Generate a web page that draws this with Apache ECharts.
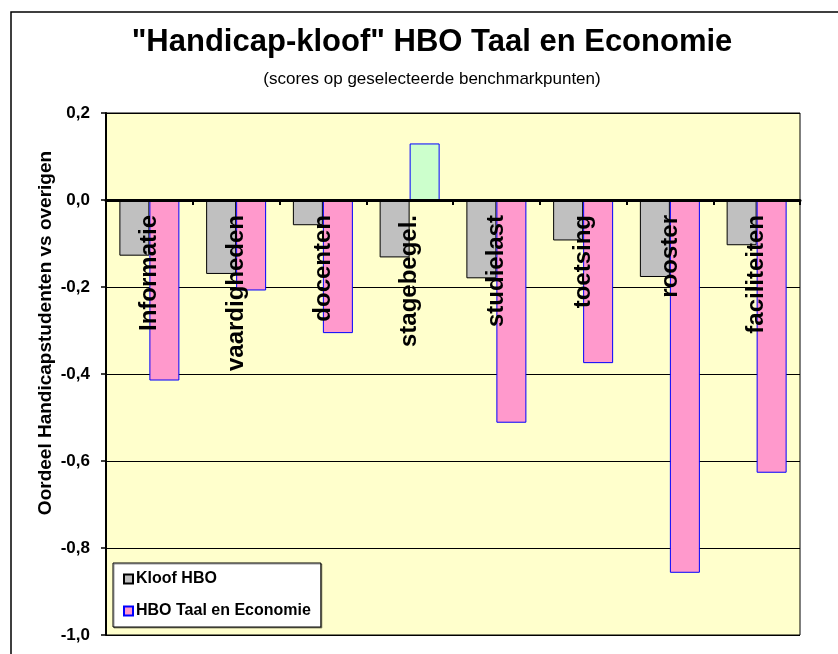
<!DOCTYPE html>
<html>
<head>
<meta charset="utf-8">
<script type="text/javascript" src="https://cdn.jsdelivr.net/npm/echarts@6/dist/echarts.min.js"></script>
<style>
  html, body { margin: 0; padding: 0; background: #fff; }
  #container { width: 838px; height: 654px; }
</style>
</head>
<body>
<div id="container"></div>
<script type="text/javascript">
    // gegevens uit de grafiek
    var categories = ['Informatie', 'vaardigheden', 'docenten', 'stagebegel.', 'studielast', 'toetsing', 'rooster', 'faciliteiten'];
    var kloofHBO = [-0.128, -0.170, -0.058, -0.132, -0.180, -0.093, -0.177, -0.104];
    var taalEconomie = [-0.415, -0.208, -0.306, 0.130, -0.512, -0.375, -0.857, -0.627];
    var seriesNames = ['Kloof HBO', 'HBO Taal en Economie'];
    var yTicks = { min: -1.0, max: 0.2, step: 0.2 };

    var FONT = '"Liberation Sans", Arial, sans-serif';

    window.onload = function () {
        var myChart = echarts.init(document.getElementById('container'));

        var gridTop = 113, gridBottom = 19, chartH = 654;
        var plotH = chartH - gridTop - gridBottom;
        // afstand van de onderkant tot de nullijn, zodat de labels bij 0 staan
        var zeroOffset = plotH * (0 - yTicks.min) / (yTicks.max - yTicks.min);

        // positieve waarde krijgt groene vulling
        var taalData = taalEconomie.map(function (v) {
            return v > 0 ? { value: v, itemStyle: { color: '#CCFFCC' } } : v;
        });

        var option = {
            animation: false,
            backgroundColor: '#ffffff',
            title: [{
                text: '"Handicap-kloof" HBO Taal en Economie',
                left: 427, top: 22, textAlign: 'center',
                textStyle: { fontFamily: FONT, fontSize: 31, fontWeight: 'bold', color: '#000' }
            }, {
                text: '(scores op geselecteerde benchmarkpunten)',
                left: 427, top: 66, textAlign: 'center',
                textStyle: { fontFamily: FONT, fontSize: 17, fontWeight: 'normal', color: '#000' }
            }],
            graphic: [{
                type: 'rect',
                shape: { x: 11, y: 12, width: 900, height: 700 },
                style: { fill: 'none', stroke: '#000', lineWidth: 1.5 },
                silent: true
            }, {
                type: 'text',
                x: 46, y: 333, rotation: Math.PI / 2,
                style: {
                    text: 'Oordeel Handicapstudenten vs overigen',
                    font: 'bold 19px ' + FONT,
                    fill: '#000', align: 'center', verticalAlign: 'middle'
                }
            }],
            legend: {
                orient: 'vertical',
                left: 113, top: 563,
                padding: [8, 10, 8, 10],
                itemGap: 16,
                itemWidth: 9, itemHeight: 9,
                icon: 'rect',
                z: 20,
                backgroundColor: '#ffffff',
                borderColor: '#000', borderWidth: 1,
                shadowColor: 'rgba(0,0,0,0.4)', shadowOffsetX: 1, shadowOffsetY: 1, shadowBlur: 0,
                textStyle: { fontFamily: FONT, fontSize: 16, fontWeight: 'bold', color: '#000', padding: [0, 0, 0, -2] },
                data: seriesNames
            },
            grid: {
                left: 106, top: gridTop, right: 38, bottom: gridBottom,
                containLabel: false, outerBoundsMode: 'none',
                show: true, backgroundColor: '#FFFFCC',
                borderColor: '#000', borderWidth: 1
            },
            xAxis: {
                type: 'category',
                data: categories,
                z: 10,
                offset: -zeroOffset,
                axisLine: { onZero: false, lineStyle: { color: '#000', width: 3 } },
                axisTick: { show: true, length: 5, lineStyle: { color: '#000', width: 2 } },
                axisLabel: {
                    rotate: 90, margin: 15, interval: 0,
                    fontFamily: FONT, fontSize: 24, fontWeight: 'bold', color: '#000'
                },
                splitLine: { show: false }
            },
            yAxis: {
                type: 'value',
                min: yTicks.min, max: yTicks.max, interval: yTicks.step,
                axisLine: { show: true, lineStyle: { color: '#000', width: 2 } },
                axisTick: { show: true, length: 5, lineStyle: { color: '#000', width: 1.5 } },
                axisLabel: {
                    margin: 16,
                    fontFamily: FONT, fontSize: 17, fontWeight: 'bold', color: '#000',
                    formatter: function (v) {
                        if (Math.abs(v) < 1e-9) v = 0;
                        return v.toFixed(1).replace('.', ',');
                    }
                },
                splitLine: { show: true, lineStyle: { color: '#000', width: 1 } }
            },
            series: [{
                name: seriesNames[0],
                type: 'bar',
                barWidth: 30,
                barGap: '0%',
                itemStyle: { color: '#C0C0C0', borderColor: '#000', borderWidth: 1 },
                data: kloofHBO
            }, {
                name: seriesNames[1],
                type: 'bar',
                barWidth: 30,
                barGap: '0%',
                itemStyle: { color: '#FF99CC', borderColor: '#0000FF', borderWidth: 1 },
                data: taalData
            }]
        };

        myChart.setOption(option);
    };
</script>
</body>
</html>
